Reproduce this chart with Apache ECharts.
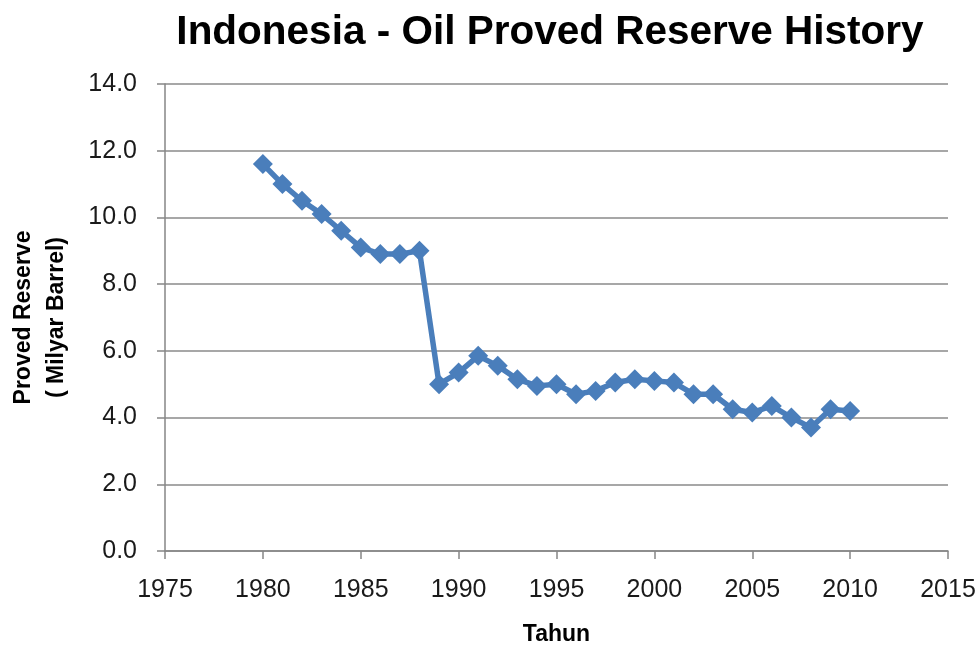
<!DOCTYPE html>
<html>
<head>
<meta charset="utf-8">
<script src="https://cdn.jsdelivr.net/npm/echarts@6/dist/echarts.min.js"></script>
<style>
  html, body { margin: 0; padding: 0; background: #fff; }
  #chart { width: 980px; height: 649px; }
</style>
</head>
<body>
<div id="chart"></div>
<script>
// data
var years = [1980, 1981, 1982, 1983, 1984, 1985, 1986, 1987, 1988, 1989,
  1990, 1991, 1992, 1993, 1994, 1995, 1996, 1997, 1998, 1999,
  2000, 2001, 2002, 2003, 2004, 2005, 2006, 2007, 2008, 2009, 2010];
var reserves = [11.6, 11.0, 10.5, 10.1, 9.6, 9.1, 8.9, 8.9, 9.0, 5.0,
  5.35, 5.85, 5.55, 5.15, 4.95, 5.0, 4.7, 4.8, 5.05, 5.15,
  5.1, 5.05, 4.7, 4.7, 4.25, 4.15, 4.35, 4.0, 3.7, 4.25, 4.2];

var titleText = "Indonesia - Oil Proved Reserve History";
var xName = "Tahun";
var yName = "Proved Reserve\n( Milyar Barrel)";

var chart = echarts.init(document.getElementById("chart"));
var font = "Liberation Sans";

chart.setOption({
  animation: false,
  title: {
    text: titleText,
    top: 7,
    left: 545,
    textAlign: "center",
    textStyle: {
      fontFamily: font,
      fontSize: 40.5,
      fontWeight: "bold",
      color: "#000"
    }
  },
  grid: {
    left: 165,
    right: 32,
    top: 84,
    bottom: 98,
    containLabel: false,
    outerBoundsMode: "none"
  },
  xAxis: {
    type: "value",
    min: 1975,
    max: 2015,
    interval: 5,
    name: xName,
    nameLocation: "middle",
    nameGap: 72,
    nameTextStyle: {
      fontFamily: font,
      fontSize: 23,
      fontWeight: "bold",
      color: "#000"
    },
    axisLine: { lineStyle: { color: "#868686", width: 1.5 } },
    axisTick: { show: true, length: 8, lineStyle: { color: "#868686", width: 1.5 } },
    axisLabel: {
      fontFamily: font,
      fontSize: 25,
      color: "#1a1a1a",
      margin: 27,
      formatter: function (v) { return String(v); }
    },
    splitLine: { show: false }
  },
  yAxis: {
    type: "value",
    min: 0,
    max: 14,
    interval: 2,
    name: yName,
    nameLocation: "middle",
    nameGap: 92,
    nameRotate: 90,
    nameTextStyle: {
      fontFamily: font,
      fontSize: 23,
      fontWeight: "bold",
      color: "#000",
      lineHeight: 33
    },
    axisLine: { show: true, lineStyle: { color: "#868686", width: 1.5 } },
    axisTick: { show: true, length: 8, lineStyle: { color: "#868686", width: 1.5 } },
    axisLabel: {
      fontFamily: font,
      fontSize: 25,
      color: "#1a1a1a",
      margin: 28,
      formatter: function (v) { return v.toFixed(1); }
    },
    splitLine: { show: true, lineStyle: { color: "#8a8a8a", width: 1.5 } }
  },
  series: [
    {
      type: "line",
      data: years.map(function (y, i) { return [y, reserves[i]]; }),
      symbol: "diamond",
      symbolSize: 20,
      lineStyle: { color: "#4a7ebb", width: 5.5 },
      itemStyle: { color: "#4a7ebb" }
    }
  ]
});
</script>
</body>
</html>
